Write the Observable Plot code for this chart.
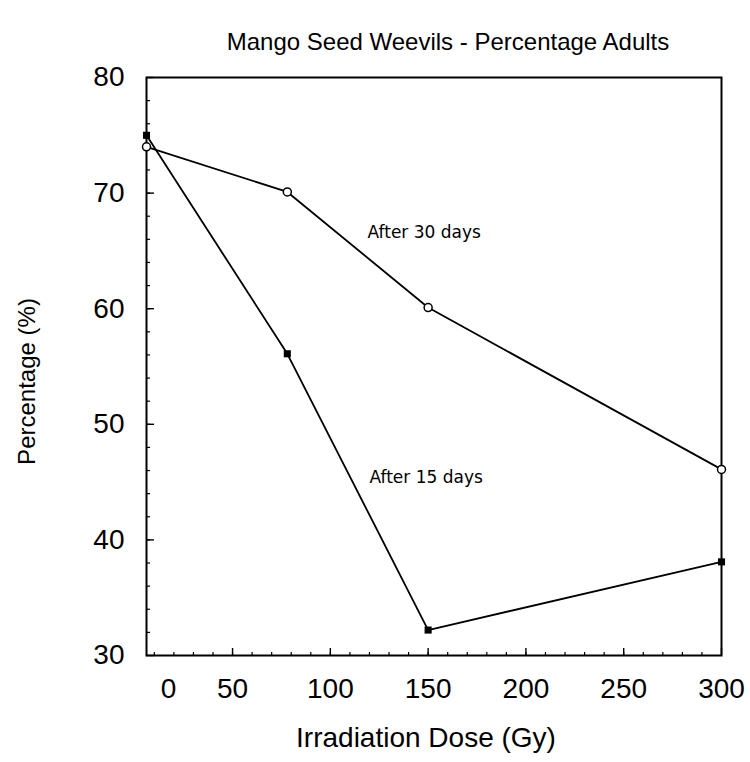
<!DOCTYPE html>
<html>
<head>
<meta charset="utf-8">
<script src="https://cdn.jsdelivr.net/npm/d3@7"></script>
<script src="https://cdn.jsdelivr.net/npm/@observablehq/plot@0.6"></script>
<style>
  html, body { margin: 0; padding: 0; background: #fff; }
</style>
</head>
<body>
<div id="chart"></div>
<script>
// ---- data ----
const title = "Mango Seed Weevils - Percentage Adults";
const xLabel = "Irradiation Dose (Gy)";
const yLabel = "Percentage (%)";
const doses = [6, 78, 150, 300];
const after15 = [75.0, 56.1, 32.2, 38.1];
const after30 = [74.0, 70.1, 60.1, 46.1];
const seriesNames = ["After 15 days", "After 30 days"];
const labelX = [120, 119];
const labelY = [45.4, 66.6];
const xDomain = [6, 300];
const yDomain = [30, 80];
const xMajorTicks = [50, 100, 150, 200, 250, 300];
const xMinorTicks = d3.range(10, 300, 10);
const yMajorTicks = [30, 40, 50, 60, 70, 80];
const yMinorTicks = d3.range(32, 80, 2);
const xZeroLabel = "0";

// ---- build table ----
const rows = [];
doses.forEach((d, i) => rows.push({dose: d, pct: after15[i], series: seriesNames[0]}));
doses.forEach((d, i) => rows.push({dose: d, pct: after30[i], series: seriesNames[1]}));
const labels = seriesNames.map((s, i) => ({text: s, x: labelX[i], y: labelY[i]}));

const W = 750, H = 762;
const mL = 146, mR = 29, mT = 77, mB = 107;
const frameW = W - mL - mR, frameH = H - mT - mB;
const font = "'Liberation Sans', Arial, sans-serif";

const chart = Plot.plot({
  width: W,
  height: H,
  marginLeft: mL,
  marginRight: mR,
  marginTop: mT,
  marginBottom: mB,
  style: {fontFamily: font, background: "#fff", color: "#000"},
  x: {domain: xDomain},
  y: {domain: yDomain},
  marks: [
    // minor & major inward ticks
    Plot.tickX(xMinorTicks, {x: d => d, insetTop: frameH - 3, stroke: "#000", strokeWidth: 1.2}),
    Plot.tickX(xMajorTicks, {x: d => d, insetTop: frameH - 7, stroke: "#000", strokeWidth: 1.4}),
    Plot.tickY(yMinorTicks, {y: d => d, insetRight: frameW - 4, stroke: "#000", strokeWidth: 1.2}),
    Plot.tickY(yMajorTicks, {y: d => d, insetRight: frameW - 8, stroke: "#000", strokeWidth: 1.4}),
    // tick labels
    Plot.axisX(xMajorTicks, {tickSize: 0, tickPadding: 23, fontSize: 28, label: null}),
    Plot.text([xZeroLabel], {x: [xDomain[0]], frameAnchor: "bottom", lineAnchor: "top", dy: 23, dx: 22, fontSize: 28}),
    Plot.axisY(yMajorTicks, {tickSize: 0, tickPadding: 22, fontSize: 28, label: null}),
    // frame
    Plot.frame({stroke: "#000", strokeWidth: 2}),
    // lines
    Plot.line(rows, {x: "dose", y: "pct", z: "series", stroke: "#000", strokeWidth: 1.8}),
    Plot.dot(rows.filter(r => r.series === seriesNames[0]), {x: "dose", y: "pct", symbol: "square", r: 4, fill: "#000", stroke: "none"}),
    Plot.dot(rows.filter(r => r.series === seriesNames[1]), {x: "dose", y: "pct", symbol: "circle", r: 4, fill: "#fff", stroke: "#000", strokeWidth: 1.5}),
    // series labels
    Plot.text(labels, {x: "x", y: "y", text: "text", textAnchor: "start", fontSize: 17, fontFamily: "'DejaVu Sans', sans-serif"}),
    // titles
    Plot.text([title], {frameAnchor: "top", dy: -35, dx: 14, fontSize: 24, lineAnchor: "middle"}),
    Plot.text([xLabel], {frameAnchor: "bottom", dy: 83, dx: -8, fontSize: 28, lineAnchor: "middle"}),
    Plot.text([yLabel], {frameAnchor: "left", textAnchor: "middle", lineAnchor: "middle", dx: -119, dy: 15, rotate: -90, fontSize: 24})
  ]
});
document.getElementById("chart").appendChild(chart);
</script>
</body>
</html>
